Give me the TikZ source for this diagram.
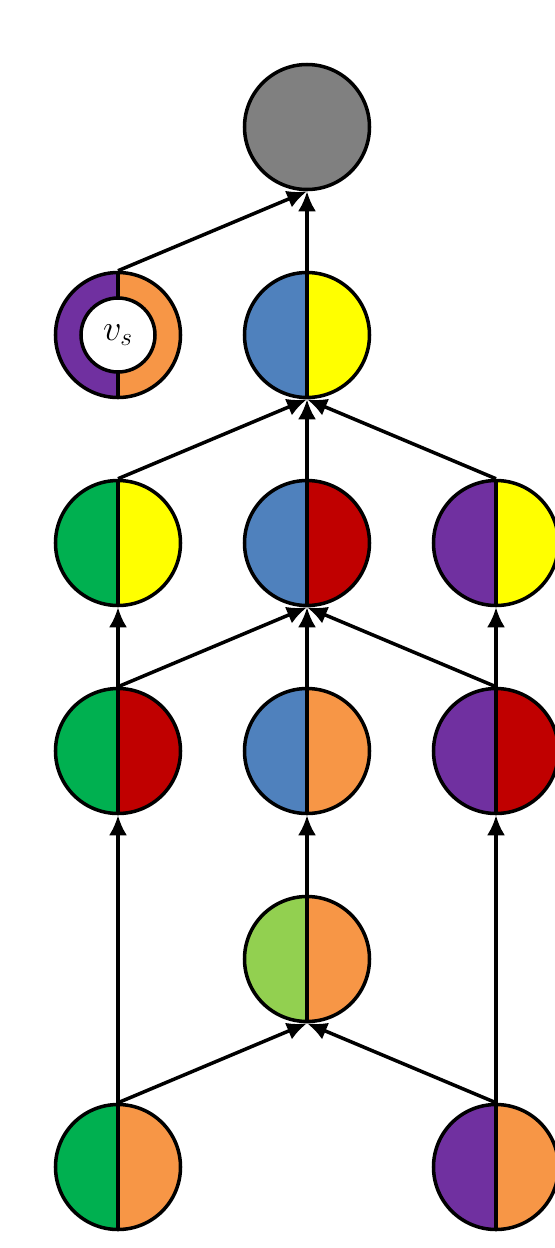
\documentclass[tikz,border=0pt]{standalone}
\usepackage{amsmath}
\usetikzlibrary{arrows.meta,positioning}
\definecolor{cgreen}{HTML}{00B050}
\definecolor{cyellow}{HTML}{FFFF00}
\definecolor{cblue}{HTML}{4F81BD}
\definecolor{cred}{HTML}{C00000}
\definecolor{cpurple}{HTML}{7030A0}
\definecolor{corange}{HTML}{F79646}
\definecolor{clime}{HTML}{92D050}
\definecolor{cgray}{HTML}{808080}
\tikzset{
half/.style 2 args={circle,draw,line width=2pt,minimum size=2.5cm,inner sep=0pt,
 path picture={
 \fill[#1] (path picture bounding box.south west) rectangle (path picture bounding box.north);
 \fill[#2] (path picture bounding box.south) rectangle (path picture bounding box.north east);
 \draw[line width=2pt] (path picture bounding box.south) -- (path picture bounding box.north);}},
link/.style={-{Latex[length=0.4cm,width=0.36cm]},line width=2pt}
}

\begin{document}
\begin{tikzpicture}
\useasboundingbox (0,0) rectangle (11.08,-24.96);
\node[circle,draw,line width=2pt,minimum size=2.5cm,fill=cgray] (T) at (6.14,-2.54) {};
\node[half={cpurple}{corange}] (PO1) at (2.36,-6.70) {};
\node[circle,draw,line width=2pt,minimum size=1.48cm,inner sep=0pt,fill=white,
 font=\fontsize{21}{25}\selectfont] (VS) at (PO1) {$v_s$};
\node[half={cblue}{cyellow}] (BY) at (6.14,-6.70) {};
\node[half={cgreen}{cyellow}] (GY) at (2.36,-10.86) {};
\node[half={cblue}{cred}] (BR) at (6.14,-10.86) {};
\node[half={cpurple}{cyellow}] (PY) at (9.92,-10.86) {};
\node[half={cgreen}{cred}] (GR) at (2.36,-15.02) {};
\node[half={cblue}{corange}] (BO) at (6.14,-15.02) {};
\node[half={cpurple}{cred}] (PR) at (9.92,-15.02) {};
\node[half={clime}{corange}] (LO) at (6.14,-19.18) {};
\node[half={cgreen}{corange}] (GO) at (2.36,-23.34) {};
\node[half={cpurple}{corange}] (PO) at (9.92,-23.34) {};
\draw[link] (PO1.north)--(T.south);
\draw[link] (BY.north)--(T.south);
\draw[link] (GY.north)--(BY.south);
\draw[link] (BR.north)--(BY.south);
\draw[link] (PY.north)--(BY.south);
\draw[link] (GR.north)--(GY.south);
\draw[link] (GR.north)--(BR.south);
\draw[link] (BO.north)--(BR.south);
\draw[link] (PR.north)--(BR.south);
\draw[link] (PR.north)--(PY.south);
\draw[link] (GO.north)--(GR.south);
\draw[link] (LO.north)--(BO.south);
\draw[link] (PO.north)--(PR.south);
\draw[link] (GO.north)--(LO.south);
\draw[link] (PO.north)--(LO.south);
\end{tikzpicture}
\end{document}
